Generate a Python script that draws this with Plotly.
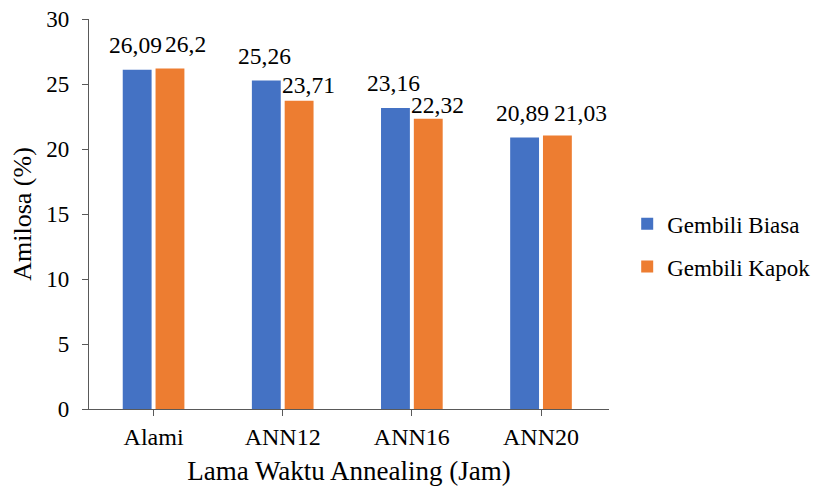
import plotly.graph_objects as go

categories = ["Alami", "ANN12", "ANN16", "ANN20"]
series_names = ["Gembili Biasa", "Gembili Kapok"]
gembili_biasa = [26.09, 25.26, 23.16, 20.89]
gembili_kapok = [26.2, 23.71, 22.32, 21.03]
y_ticks = [0, 5, 10, 15, 20, 25, 30]

colors = ["#4472C4", "#ED7D31"]
FONT = "Liberation Serif"

# label nudges (pixels) to mimic Excel's overlap avoidance: (dx, dy_above_bar_top)
label_nudge = {
    (1, "Alami"): (13, 24),
    (1, "ANN12"): (7, 16),
    (1, "ANN16"): (7.5, 14),
    (1, "ANN20"): (21, 22.5),
}
bar_offset_px = 18.5
default_above = 24.5

fig = go.Figure()
all_series = [gembili_biasa, gembili_kapok]
for i, (name, vals) in enumerate(zip(series_names, all_series)):
    fig.add_trace(go.Bar(
        x=categories, y=vals, name=name,
        marker=dict(color=colors[i], line=dict(width=0)),
        legendgroup=name,
    ))

annotations = []
for i, vals in enumerate(all_series):
    sign = -1 if i == 0 else 1
    for cat, v in zip(categories, vals):
        dx, dy = label_nudge.get((i, cat), (0, default_above))
        annotations.append(dict(
            x=cat, y=v, xref="x", yref="y",
            text=str(v).replace(".", ","),
            showarrow=False,
            xshift=sign * bar_offset_px + dx,
            yshift=dy,
            yanchor="middle", xanchor="center",
            font=dict(family=FONT, size=23.5, color="black"),
        ))

fig.update_layout(
    width=819, height=492,
    margin=dict(l=89, r=210, t=19, b=83, autoexpand=False),
    paper_bgcolor="white", plot_bgcolor="white",
    barmode="group", bargap=0.492, bargroupgap=0.12,
    font=dict(family=FONT, size=23, color="black"),
    showlegend=True,
    legend=dict(
        x=1.035, xanchor="left", y=0.42, yanchor="middle",
        font=dict(family=FONT, size=23, color="black"),
        tracegroupgap=10, traceorder="grouped",
        bgcolor="rgba(0,0,0,0)",
    ),
    annotations=annotations,
    shapes=[dict(
        type="line", xref="paper", x0=1, x1=1,
        yref="y", ysizemode="pixel", yanchor=0, y0=0, y1=-6,
        line=dict(color="#595959", width=1.3),
    )],
)

fig.update_xaxes(
    type="category", automargin=False,
    showline=True, linecolor="#595959", linewidth=1.3,
    ticks="outside", ticklen=6, tickcolor="#595959", tickwidth=1.3,
    showgrid=False, zeroline=False,
    tickfont=dict(family=FONT, size=24, color="black"),
    title=dict(text="Lama Waktu Annealing (Jam)", standoff=12,
               font=dict(family=FONT, size=27, color="black")),
)
fig.update_yaxes(
    range=[0, 30], tickvals=y_ticks, automargin=False,
    showline=True, linecolor="#595959", linewidth=1.3,
    ticks="outside", ticklen=6, tickcolor="#595959", tickwidth=1.3,
    showgrid=False, zeroline=False,
    tickfont=dict(family=FONT, size=23, color="black"),
    ticklabelstandoff=8,
    title=dict(text="Amilosa (%)", standoff=7,
               font=dict(family=FONT, size=26, color="black")),
)

fig.write_html("out.html", post_script="document.body.style.margin='0';",
               config={"displayModeBar": False})
